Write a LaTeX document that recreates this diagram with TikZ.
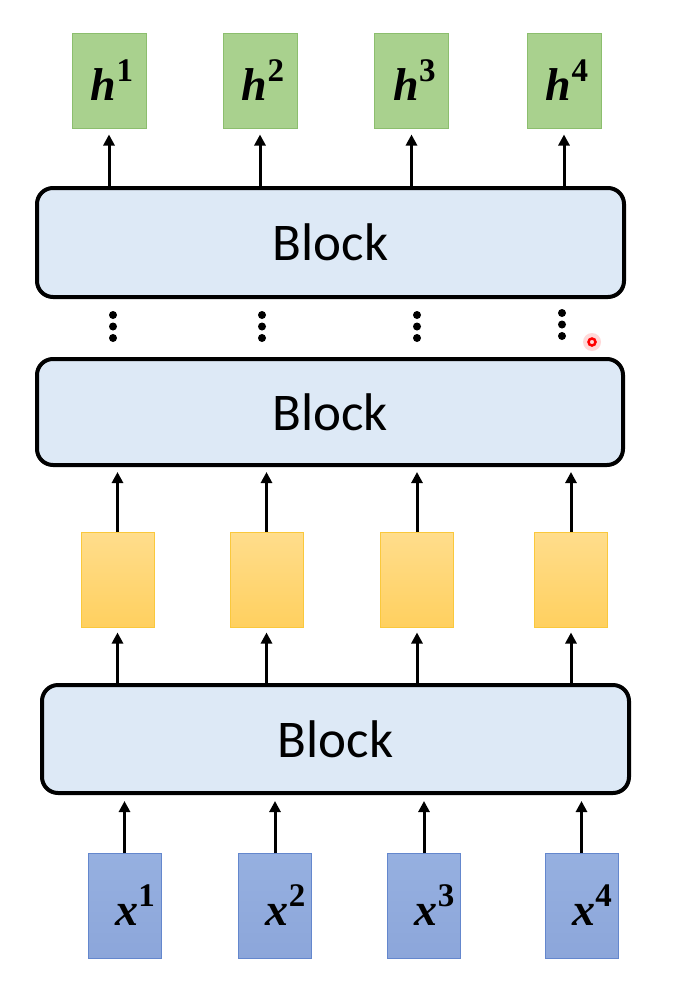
\documentclass[tikz,border=0pt]{standalone}
\usepackage{fontspec}
\setmainfont{Carlito}
\newfontfamily\lblfont{Liberation Serif}
\usetikzlibrary{arrows.meta}
\definecolor{gfill}{RGB}{169,209,142}
\definecolor{gdraw}{RGB}{140,190,110}
\definecolor{ytop}{RGB}{255,221,140}
\definecolor{ybot}{RGB}{255,208,95}
\definecolor{ydraw}{RGB}{250,200,60}
\definecolor{btop}{RGB}{150,176,224}
\definecolor{bbot}{RGB}{140,166,218}
\definecolor{bdraw}{RGB}{100,135,205}
\definecolor{blkfill}{RGB}{221,233,246}
\newcommand{\vlbl}[2]{{\itshape #1}\raisebox{0.42em}{\fontsize{33}{35}\selectfont #2}}
\tikzset{
  blockbox/.style={draw=black, line width=4pt, rounded corners=16pt, fill=blkfill, font=\fontsize{53}{58}\selectfont},
  gbox/.style={draw=gdraw, line width=1pt, fill=gfill, minimum width=74pt, minimum height=95pt, inner sep=0pt},
  ybox/.style={draw=ydraw, line width=1pt, top color=ytop, bottom color=ybot, minimum width=73pt, minimum height=95pt, inner sep=0pt},
  bbox/.style={draw=bdraw, line width=1pt, top color=btop, bottom color=bbot, minimum width=73pt, minimum height=105pt, inner sep=0pt},
  mathlbl/.style={font=\lblfont\bfseries\fontsize{46}{50}\selectfont, inner sep=0pt},
  arr/.style={line width=3pt, -{Triangle[length=11pt,width=11pt]}},
  vdot/.style={circle, fill=black, inner sep=0pt, minimum size=8pt}
}
\begin{document}
\begin{tikzpicture}[x=1pt,y=-1pt]
\useasboundingbox (0,0) rectangle (673,988);
% blocks
\node[blockbox, minimum width=587pt, minimum height=109pt] (blkA) at (330.5,242.5) {Block};
\node[blockbox, minimum width=586pt, minimum height=106pt] (blkB) at (330,412) {Block};
\node[blockbox, minimum width=587pt, minimum height=108pt] (blkC) at (335.5,739) {Block};
% green outputs
\node[gbox] (g1) at (109,80.5) {};
\node[gbox] (g2) at (260,80.5) {};
\node[gbox] (g3) at (411.5,80.5) {};
\node[gbox] (g4) at (564,80.5) {};
\node[mathlbl] (gl1) at (112,80) {\vlbl{h}{1}};
\node[mathlbl] (gl2) at (263,80) {\vlbl{h}{2}};
\node[mathlbl] (gl3) at (414.5,80) {\vlbl{h}{3}};
\node[mathlbl] (gl4) at (567,80) {\vlbl{h}{4}};
\draw[arr, shorten >=6pt] (blkA.north -| g1) -- (g1.south);
\draw[arr, shorten >=6pt] (blkA.north -| g2) -- (g2.south);
\draw[arr, shorten >=6pt] (blkA.north -| g3) -- (g3.south);
\draw[arr, shorten >=6pt] (blkA.north -| g4) -- (g4.south);
% dots
\node[vdot] (da1) at (113,315) {};
\node[vdot] (db1) at (113,326.5) {};
\node[vdot] (dc1) at (113,338) {};
\node[vdot] (da2) at (262,315) {};
\node[vdot] (db2) at (262,326.5) {};
\node[vdot] (dc2) at (262,338) {};
\node[vdot] (da3) at (417,315) {};
\node[vdot] (db3) at (417,326.5) {};
\node[vdot] (dc3) at (417,338) {};
\node[vdot] (da4) at (562,313) {};
\node[vdot] (db4) at (562,324.5) {};
\node[vdot] (dc4) at (562,336) {};
% yellow
\node[ybox] (y1) at (117.5,579.5) {};
\node[ybox] (y2) at (266.5,579.5) {};
\node[ybox] (y3) at (417,579.5) {};
\node[ybox] (y4) at (571,579.5) {};
\draw[arr, shorten >=5pt] (y1.north) -- (blkB.south -| y1);
\draw[arr, shorten >=5pt] (y2.north) -- (blkB.south -| y2);
\draw[arr, shorten >=5pt] (y3.north) -- (blkB.south -| y3);
\draw[arr, shorten >=5pt] (y4.north) -- (blkB.south -| y4);
\draw[arr, shorten >=5pt] (blkC.north -| y1) -- (y1.south);
\draw[arr, shorten >=5pt] (blkC.north -| y2) -- (y2.south);
\draw[arr, shorten >=5pt] (blkC.north -| y3) -- (y3.south);
\draw[arr, shorten >=5pt] (blkC.north -| y4) -- (y4.south);
% blue inputs
\node[bbox] (b1) at (124.5,906) {};
\node[bbox] (b2) at (275,906) {};
\node[bbox] (b3) at (424,906) {};
\node[bbox] (b4) at (581.5,906) {};
\node[mathlbl] (bl1) at (135,905) {\vlbl{x}{1}};
\node[mathlbl] (bl2) at (285.5,905) {\vlbl{x}{2}};
\node[mathlbl] (bl3) at (434.5,905) {\vlbl{x}{3}};
\node[mathlbl] (bl4) at (592,905) {\vlbl{x}{4}};
\draw[arr, shorten >=6pt] (b1.north) -- (blkC.south -| b1);
\draw[arr, shorten >=6pt] (b2.north) -- (blkC.south -| b2);
\draw[arr, shorten >=6pt] (b3.north) -- (blkC.south -| b3);
\draw[arr, shorten >=6pt] (b4.north) -- (blkC.south -| b4);
% pointer mark
\fill[red!25, opacity=0.6] (592,342) circle (9pt);
\draw[red, line width=2.5pt] (592,342) circle (3.5pt);
\end{tikzpicture}
\end{document}
